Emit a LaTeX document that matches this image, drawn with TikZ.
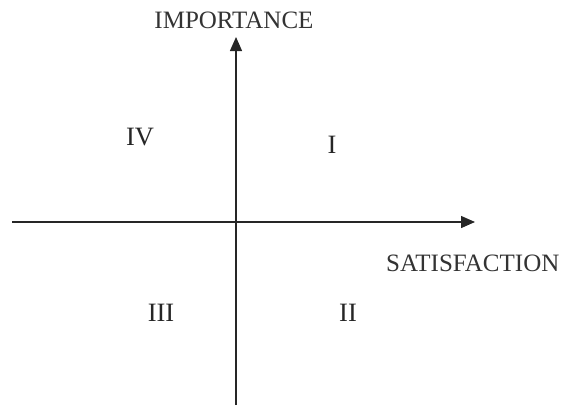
\documentclass[tikz,border=0pt]{standalone}
\usepackage{fontspec}
\setmainfont{Liberation Serif}
\usetikzlibrary{arrows.meta}
\begin{document}
\begin{tikzpicture}[x=1pt,y=-1pt,
  axis/.style={line width=1.4pt,draw=black!85,-{Triangle[length=14pt,width=12pt]}},
  lbl/.style={font=\fontsize{25}{27}\selectfont,text=black!80,inner sep=0pt},
  quad/.style={font=\fontsize{26.5}{28}\selectfont,text=black!85,inner sep=0pt}]
\useasboundingbox (0,0) rectangle (562,410);
\coordinate (xs) at (12,222);
\coordinate (xe) at (475,222);
\coordinate (ys) at (236,405);
\coordinate (ye) at (236,37);
\draw[axis] (xs) -- (xe);
\draw[axis] (ys) -- (ye);
\node[lbl] (imp) at (234,20) {IMPORTANCE};
\node[lbl,anchor=west] (sat) at (386,263) {SATISFACTION};
\node[quad] (q4) at (140,137) {IV};
\node[quad] (q1) at (332,145) {I};
\node[quad] (q3) at (161,313) {III};
\node[quad] (q2) at (348,313) {II};
\end{tikzpicture}
\end{document}
